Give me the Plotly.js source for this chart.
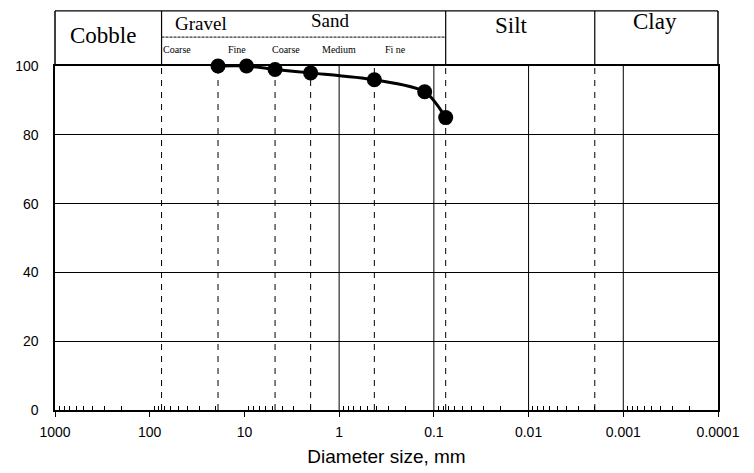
<!DOCTYPE html>
<html>
<head>
<meta charset="utf-8">
<script src="https://cdn.plot.ly/plotly-3.0.1.min.js"></script>
<style>html,body{margin:0;padding:0;background:#fff;}#chart{width:754px;height:473px;}</style>
</head>
<body>
<div id="chart"></div>
<script>
// Data
const diameters = [19, 9.5, 4.75, 2, 0.425, 0.125, 0.075];     // mm
const percentFiner = [100, 100, 99, 98, 96, 92.5, 85];           // %
const tickVals = [1000, 100, 10, 1, 0.1, 0.01, 0.001, 0.0001];
const tickText = ['1000', '100', '10', '1', '0.1', '0.01', '0.001', '0.0001'];
const boundarySizes = [75, 19, 4.75, 2, 0.425, 0.075, 0.002];   // dashed class limits
const solidGrid = [1, 0.1, 0.01, 0.001];
const yTicks = [0, 20, 40, 60, 80, 100];

// Header labels
const mainLabels = ['Cobble', 'Gravel', 'Sand', 'Silt', 'Clay'];
const subLabels = ['Coarse', 'Fine', 'Coarse', 'Medium', 'Fi ne'];

// minor ticks (axis decoration)
const minorVals = [];
for (let e = -4; e < 3; e++) {
  for (let m = 2; m <= 9; m++) minorVals.push(m * Math.pow(10, e));
}

const serif = 'Liberation Serif, Times New Roman, serif';
const sans = 'Liberation Sans, Arial, sans-serif';

const shapes = [];
boundarySizes.forEach(v => shapes.push({
  type: 'line', xref: 'x', yref: 'y', x0: v, x1: v, y0: 0, y1: 100,
  line: {color: 'black', width: 1, dash: '6px,6px'}
}));
solidGrid.forEach(v => shapes.push({
  type: 'line', xref: 'x', yref: 'y', x0: v, x1: v, y0: 0, y1: 100,
  line: {color: 'black', width: 1}
}));
// header box
const hTop = 1.160, hSub = 1.084;
shapes.push({type: 'line', xref: 'paper', yref: 'paper', x0: 0, x1: 1, y0: hTop, y1: hTop, line: {color: 'black', width: 1.2}});
shapes.push({type: 'line', xref: 'paper', yref: 'paper', x0: 0, x1: 0, y0: 1, y1: hTop, line: {color: 'black', width: 1.5}});
shapes.push({type: 'line', xref: 'paper', yref: 'paper', x0: 1, x1: 1, y0: 1, y1: hTop, line: {color: 'black', width: 1.5}});
[75, 0.075, 0.002].forEach(v => shapes.push({
  type: 'line', xref: 'x', yref: 'paper', x0: v, x1: v, y0: 1, y1: hTop, line: {color: 'black', width: 1.2}
}));
shapes.push({type: 'line', xref: 'x', yref: 'paper', x0: 75, x1: 0.075, y0: hSub, y1: hSub, line: {color: 'black', width: 1, dash: '3px,1px'}});

const mainPos = [[0.072, 1.090, 23], [0.220, 1.125, 19], [0.416, 1.131, 19], [0.689, 1.119, 23], [0.905, 1.128, 23]];
const subPos = [0.184, 0.2745, 0.348, 0.428, 0.513];
const annotations = [];
mainLabels.forEach((t, i) => annotations.push({
  text: t, xref: 'paper', yref: 'paper', x: mainPos[i][0], y: mainPos[i][1],
  showarrow: false, xanchor: 'center', yanchor: 'middle',
  font: {family: serif, size: mainPos[i][2], color: 'black'}
}));
subLabels.forEach((t, i) => annotations.push({
  text: t, xref: 'paper', yref: 'paper', x: subPos[i], y: 1.049,
  showarrow: false, xanchor: 'center', yanchor: 'middle',
  font: {family: serif, size: 10, color: 'black'}
}));

const trace = {
  x: diameters, y: percentFiner, type: 'scatter', mode: 'lines+markers',
  line: {color: 'black', width: 3, shape: 'spline', smoothing: 0.8},
  marker: {color: 'black', size: 15},
  cliponaxis: false, showlegend: false
};

const layout = {
  width: 754, height: 473,
  margin: {l: 55, r: 36, t: 66, b: 63},
  paper_bgcolor: 'white', plot_bgcolor: 'white',
  showlegend: false,
  font: {family: sans, color: 'black'},
  xaxis: {
    type: 'log', range: [3, -4], autorange: false,
    tickmode: 'array', tickvals: tickVals, ticktext: tickText,
    ticks: 'outside', ticklen: 5, tickcolor: 'black', tickwidth: 1,
    showgrid: false, zeroline: false,
    showline: true, linecolor: 'black', linewidth: 1.6, mirror: true,
    tickfont: {family: sans, size: 14, color: 'black'},
    ticklabelstandoff: 4,
    minor: {tickmode: 'array', tickvals: minorVals, ticks: 'inside', ticklen: 4, tickcolor: 'black', tickwidth: 1, showgrid: false},
    title: {text: 'Diameter size, mm', font: {family: sans, size: 19, color: 'black'}, standoff: 10}
  },
  yaxis: {
    range: [0, 100], autorange: false,
    tickmode: 'array', tickvals: yTicks,
    ticks: '', showgrid: true, gridcolor: 'black', gridwidth: 1,
    zeroline: false, showline: true, linecolor: 'black', linewidth: 1.6, mirror: true,
    tickfont: {family: sans, size: 14, color: 'black'},
    ticklabelstandoff: 12
  },
  shapes: shapes,
  annotations: annotations
};

Plotly.newPlot('chart', [trace], layout, {displayModeBar: false, staticPlot: true});
</script>
</body>
</html>
